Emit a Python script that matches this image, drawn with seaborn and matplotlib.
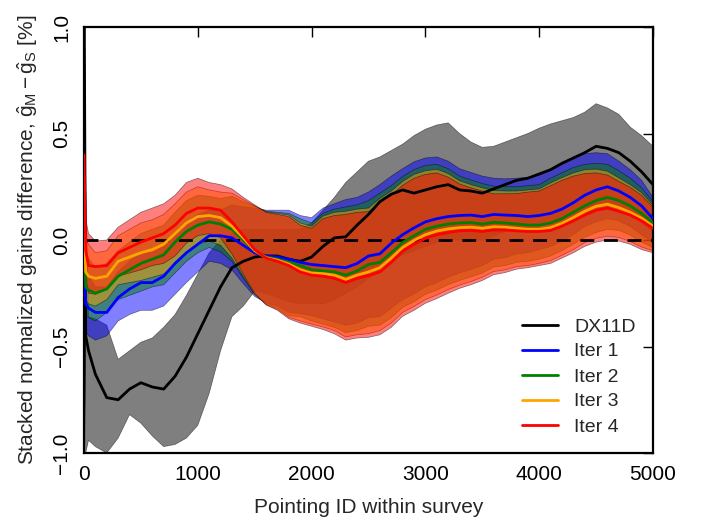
import numpy as np
import pandas as pd
import matplotlib
matplotlib.use("Agg")
import matplotlib.pyplot as plt
import seaborn as sns

# ---------------- data ----------------
pointing_id = [0, 15, 40, 100, 200, 300, 400, 500, 600, 700, 800, 900, 1000,
               1100, 1200, 1300, 1400, 1500, 1600, 1700, 1800, 1900, 2000,
               2100, 2200, 2300, 2400, 2500, 2600, 2700, 2800, 2900, 3000,
               3100, 3200, 3300, 3400, 3500, 3600, 3700, 3800, 3900, 4000,
               4100, 4200, 4300, 4400, 4500, 4600, 4700, 4800, 4900, 5000]

dx11d_line = [1.3, -0.45, -0.52, -0.63, -0.74, -0.75, -0.70, -0.67, -0.69, -0.70, -0.64, -0.55, -0.44,
              -0.33, -0.22, -0.13, -0.10, -0.08, -0.075, -0.075, -0.09, -0.10, -0.08,
              -0.03, 0.01, 0.015, 0.07, 0.12, 0.18, 0.215, 0.235, 0.22, 0.235,
              0.25, 0.26, 0.235, 0.23, 0.22, 0.24, 0.26, 0.28, 0.29, 0.31,
              0.33, 0.36, 0.385, 0.41, 0.44, 0.43, 0.41, 0.37, 0.32, 0.26]
dx11d_hi = [1.3, 0.3, -0.36, -0.37, -0.40, -0.56, -0.52, -0.48, -0.46, -0.41, -0.35, -0.26, -0.16,
            -0.06, 0.0, 0.03, 0.05, 0.05, 0.05, 0.05, 0.05, 0.05, 0.08,
            0.14, 0.20, 0.27, 0.32, 0.37, 0.39, 0.42, 0.45, 0.49, 0.52,
            0.54, 0.55, 0.50, 0.46, 0.435, 0.44, 0.46, 0.48, 0.50, 0.525,
            0.545, 0.56, 0.575, 0.60, 0.64, 0.62, 0.59, 0.53, 0.49, 0.44]
dx11d_lo = [-1.3, -1.0, -0.94, -0.97, -1.0, -0.93, -0.82, -0.86, -0.92, -0.97, -0.96, -0.93, -0.87,
            -0.72, -0.52, -0.36, -0.31, -0.24, -0.25, -0.27, -0.29, -0.30, -0.30,
            -0.30, -0.28, -0.25, -0.22, -0.18, -0.14, -0.10, -0.07, -0.05, -0.03,
            -0.01, 0.0, 0.0, 0.0, 0.0, 0.02, 0.04, 0.06, 0.07, 0.08,
            0.09, 0.10, 0.12, 0.14, 0.17, 0.18, 0.16, 0.12, 0.08, 0.04]

iter1_line = [0.0, -0.30, -0.32, -0.34, -0.34, -0.27, -0.23, -0.20, -0.20, -0.17, -0.11, -0.06, -0.02,
              0.02, 0.02, 0.01, -0.025, -0.06, -0.075, -0.08, -0.09, -0.105, -0.115,
              -0.12, -0.125, -0.13, -0.11, -0.075, -0.065, -0.015, 0.025, 0.057, 0.085,
              0.10, 0.11, 0.115, 0.117, 0.11, 0.12, 0.117, 0.115, 0.11, 0.115,
              0.125, 0.145, 0.175, 0.21, 0.235, 0.25, 0.23, 0.20, 0.16, 0.10]
iter2_line = [0.10, -0.22, -0.235, -0.25, -0.23, -0.17, -0.14, -0.11, -0.09, -0.07, -0.01, 0.04, 0.07,
              0.085, 0.075, 0.05, 0.0, -0.05, -0.08, -0.09, -0.105, -0.12, -0.14,
              -0.145, -0.15, -0.165, -0.145, -0.115, -0.105, -0.06, -0.012, 0.02, 0.05,
              0.065, 0.075, 0.08, 0.082, 0.075, 0.083, 0.08, 0.075, 0.07, 0.07,
              0.08, 0.10, 0.13, 0.16, 0.185, 0.20, 0.185, 0.16, 0.125, 0.08]
iter3_line = [0.15, -0.15, -0.17, -0.18, -0.17, -0.10, -0.08, -0.06, -0.045, -0.02, 0.03, 0.08, 0.11,
              0.115, 0.105, 0.065, 0.01, -0.05, -0.083, -0.095, -0.113, -0.14, -0.155,
              -0.158, -0.165, -0.185, -0.165, -0.15, -0.13, -0.085, -0.035, -0.002, 0.025,
              0.042, 0.052, 0.058, 0.06, 0.055, 0.062, 0.06, 0.055, 0.05, 0.05,
              0.058, 0.078, 0.105, 0.135, 0.158, 0.168, 0.152, 0.13, 0.102, 0.065]
iter4_line = [0.40, -0.05, -0.12, -0.125, -0.12, -0.06, -0.035, -0.01, 0.01, 0.03, 0.07, 0.125, 0.15,
              0.15, 0.14, 0.085, 0.02, -0.045, -0.085, -0.10, -0.12, -0.15, -0.165,
              -0.17, -0.18, -0.20, -0.18, -0.167, -0.15, -0.105, -0.053, -0.02, 0.008,
              0.025, 0.035, 0.043, 0.045, 0.04, 0.047, 0.047, 0.043, 0.04, 0.04,
              0.045, 0.065, 0.09, 0.117, 0.14, 0.15, 0.135, 0.117, 0.09, 0.055]

# spread of the Iter bands above / below their line
iter_spread_up = [1.3, 0.15, 0.15, 0.12, 0.12, 0.12, 0.13, 0.14, 0.14, 0.14, 0.14, 0.145, 0.14,
                  0.12, 0.12, 0.155, 0.18, 0.21, 0.215, 0.22, 0.23, 0.22, 0.22,
                  0.27, 0.295, 0.32, 0.31, 0.30, 0.325, 0.315, 0.31, 0.31, 0.30,
                  0.29, 0.26, 0.22, 0.20, 0.19, 0.17, 0.17, 0.175, 0.185, 0.19,
                  0.21, 0.215, 0.21, 0.195, 0.175, 0.155, 0.14, 0.13, 0.12, 0.10]
iter_spread_down = [1.3, 0.13, 0.13, 0.13, 0.11, 0.11, 0.12, 0.13, 0.13, 0.14, 0.145, 0.14, 0.13,
                    0.12, 0.13, 0.15, 0.18, 0.205, 0.22, 0.23, 0.25, 0.24, 0.24,
                    0.25, 0.26, 0.27, 0.28, 0.29, 0.295, 0.305, 0.305, 0.31, 0.305,
                    0.30, 0.285, 0.27, 0.255, 0.23, 0.21, 0.20, 0.18, 0.17, 0.16,
                    0.155, 0.15, 0.15, 0.147, 0.15, 0.15, 0.14, 0.137, 0.135, 0.115]

labels = ["DX11D", "Iter 1", "Iter 2", "Iter 3", "Iter 4"]
colors = ["black", "blue", "green", "orange", "red"]

# ---------------- figure ----------------
sns.set_theme(style="white")
plt.rcParams["font.family"] = ["Liberation Sans", "DejaVu Sans"]
plt.rcParams["mathtext.fontset"] = "custom"
plt.rcParams["mathtext.rm"] = "Liberation Sans"
plt.rcParams["mathtext.it"] = "Liberation Sans"
plt.rcParams["axes.unicode_minus"] = True

fig = plt.figure(figsize=(7.03, 5.22), dpi=100)
ax = fig.add_axes([84 / 703, 69 / 522, 569 / 703, 426 / 522])

x = np.array(pointing_id, dtype=float)
iter_lines = [iter1_line, iter2_line, iter3_line, iter4_line]
up = np.array(iter_spread_up)
dn = np.array(iter_spread_down)

# bands
ax.fill_between(x, dx11d_lo, dx11d_hi, facecolor="black", alpha=0.5,
                edgecolor="black", linewidth=0.5, zorder=1)
for vals, c in zip(iter_lines, colors[1:]):
    v = np.array(vals)
    ax.fill_between(x, v - dn, v + up, facecolor=c, alpha=0.5,
                    edgecolor="black", linewidth=0.5, zorder=1)

ax.axhline(0, color="black", lw=2, dashes=(5, 3.5), zorder=2)

# lines
df = pd.DataFrame({"pointing": pointing_id * 5,
                   "value": dx11d_line + iter1_line + iter2_line + iter3_line + iter4_line,
                   "series": sum([[l] * len(pointing_id) for l in labels], [])})
sns.lineplot(data=df, x="pointing", y="value", hue="series", palette=dict(zip(labels, colors)),
             hue_order=labels, estimator=None, sort=False, lw=2, ax=ax, zorder=3, legend=True)

ax.set_xlim(0, 5000)
ax.set_ylim(-1.0, 1.0)
ax.set_xticks([0, 1000, 2000, 3000, 4000, 5000])
ax.set_yticks([-1.0, -0.5, 0.0, 0.5, 1.0])
ax.tick_params(direction="in", length=7, width=1, top=True, right=True,
               labelsize=15, pad=9, colors="black")
for lab in ax.get_yticklabels():
    lab.set_rotation(90)
    lab.set_va("center")
for s in ax.spines.values():
    s.set_linewidth(1.6)
    s.set_color("black")

ax.set_xlabel("Pointing ID within survey", fontsize=15, labelpad=10)
ax.set_ylabel(r"Stacked normalized gains difference, $\hat{\mathrm{g}}_{\mathrm{M}}-\hat{\mathrm{g}}_{\mathrm{S}}$ [%]",
              fontsize=15, labelpad=9)

handles, labs = ax.get_legend_handles_labels()
leg = ax.legend(handles, labs, loc="lower right", frameon=False, fontsize=14,
                handlelength=1.9, labelspacing=0.38, borderaxespad=0.5)
for h in leg.get_lines():
    h.set_linewidth(2)

fig.savefig("out.png", dpi=100)
